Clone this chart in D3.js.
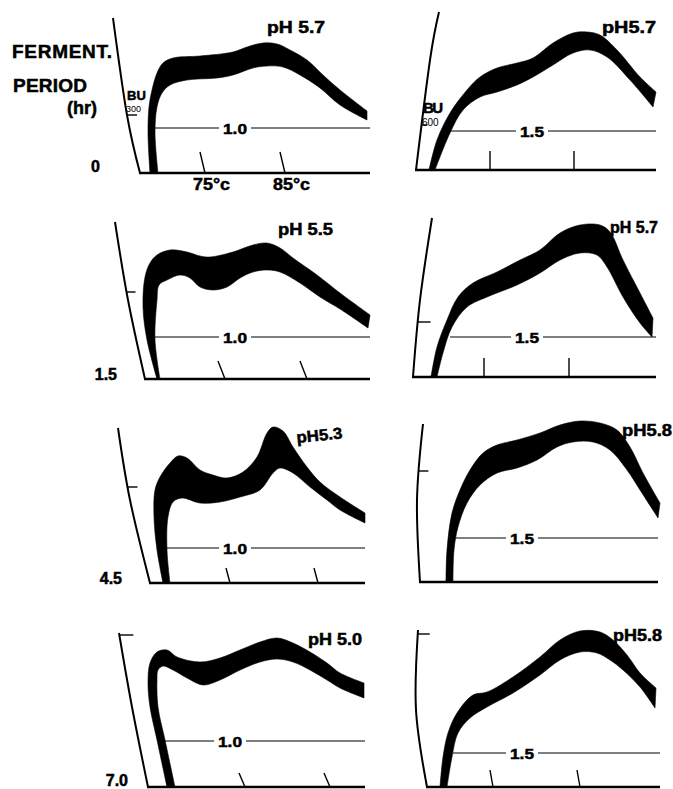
<!DOCTYPE html>
<html>
<head>
<meta charset="utf-8">
<title>Amylograms by fermentation period</title>
<script src="https://d3js.org/d3.v7.min.js"></script>
<style>
  body { margin: 0; background: #fff; }
  svg { display: block; }
  text { font-family: "Liberation Sans", Arial, Helvetica, sans-serif; font-weight: bold; fill: #000; stroke: #000; stroke-width: 0.5px; }
  text.thin { stroke: none; font-weight: normal; }
  .band { fill: #000; stroke: #000; stroke-width: 0.6px; stroke-linejoin: round; }
  .axis { fill: none; stroke: #000; stroke-width: 2px; }
  .base { stroke: #000; stroke-width: 2.5px; }
  .tick { stroke: #000; stroke-width: 1.4px; }
  .ref { stroke: #000; stroke-width: 1px; }
</style>
</head>
<body>
<div id="chart"></div>
<script>
const width = 673, height = 789;

// fermentation period (hr), one per row
const periods = ["0", "1.5", "4.5", "7.0"];
// pH per panel (row by row, left then right)
const phLabels = ["pH 5.7", "pH5.7", "pH 5.5", "pH 5.7", "pH5.3", "pH5.8", "pH 5.0", "pH5.8"];
const refLabels = ["1.0", "1.5", "1.0", "1.5", "1.0", "1.5", "1.0", "1.5"];
const refLevel = [45, 39, 42, 40, 35, 44, 46, 34];
const tempLabels = ["75", "85"];
const tempTicks = [[65, 145], [74, 158], [80, 162], [71, 156], [80, 168], [], [97, 182], [66, 153]];

// band outlines, [time, viscosity] in panel units
const p1Upper = [[10,0],[8,40],[9,66],[12,83],[17,100],[23,110],[33,115],[60,117],[93,121],[107,126],[123,130],[137,129],[150,123],[167,113],[183,98],[200,83],[227,62]];
const p1Lower = [[18,0],[15,40],[17,66],[22,80],[30,88],[47,93],[77,95],[93,98],[113,105],[127,107],[143,106],[160,98],[180,85],[200,68],[227,53]];
const p2Upper = [[13,0],[21,30],[34,57],[51,80],[64,93],[81,102],[101,107],[117,112],[137,127],[157,137],[171,138],[184,135],[201,120],[224,93],[240,78]];
const p2Lower = [[19,0],[34,37],[47,60],[64,73],[81,78],[101,85],[117,93],[137,105],[157,117],[174,120],[191,113],[214,90],[237,63]];
const p3Upper = [[12,0],[2,39],[-2,72],[0,102],[5,116],[12,124],[25,129],[42,127],[55,123],[65,122],[88,127],[108,134],[122,136],[135,131],[148,121],[172,104],[195,86],[225,64]];
const p3Lower = [[15,0],[10,39],[12,79],[14,94],[22,99],[35,104],[45,101],[55,92],[68,89],[82,92],[95,101],[108,107],[122,109],[135,107],[155,96],[175,82],[195,70],[223,51]];
const p4Upper = [[18,0],[24,30],[34,57],[45,80],[60,94],[84,105],[107,117],[127,127],[147,144],[167,152],[187,152],[197,145],[210,117],[227,84],[240,59]];
const p4Lower = [[24,0],[30,24],[39,50],[54,70],[74,80],[104,92],[127,104],[147,117],[167,124],[184,122],[194,110],[210,80],[227,54],[239,40]];
const p5Upper = [[13,0],[7,33],[4,66],[5,93],[10,106],[20,120],[28,127],[37,125],[50,113],[63,108],[77,105],[93,111],[107,126],[117,150],[123,156],[133,152],[143,136],[157,116],[170,101],[190,86],[215,70]];
const p5Lower = [[20,0],[17,33],[18,66],[23,81],[32,85],[50,80],[70,81],[90,86],[110,93],[123,110],[130,115],[143,110],[160,96],[177,83],[190,73],[215,60]];
const p6Upper = [[26,0],[27,32],[32,69],[40,92],[50,112],[63,129],[77,137],[97,142],[120,149],[140,157],[160,161],[180,159],[197,152],[210,135],[223,109],[240,79]];
const p6Lower = [[33,0],[34,32],[38,55],[47,79],[60,97],[77,109],[97,114],[117,122],[137,135],[153,140],[173,140],[190,132],[207,112],[220,92],[238,64]];
const p7Upper = [[19,0],[9,47],[2,80],[0,104],[2,124],[9,135],[19,137],[29,130],[52,125],[72,129],[92,137],[112,145],[129,149],[145,144],[162,135],[179,124],[192,114],[216,104]];
const p7Lower = [[27,0],[17,47],[10,80],[9,107],[10,117],[15,121],[25,117],[39,109],[55,102],[72,107],[92,117],[112,125],[129,128],[145,125],[162,117],[179,107],[192,99],[216,89]];
const p8Upper = [[13,0],[16,30],[21,54],[30,74],[46,92],[60,95],[86,110],[113,130],[133,147],[153,156],[173,155],[186,147],[200,132],[213,114],[229,99]];
const p8Lower = [[20,0],[25,30],[31,54],[43,69],[60,80],[86,94],[113,112],[133,127],[153,135],[170,134],[183,127],[196,117],[213,100],[228,79]];

const uppers = [p1Upper, p2Upper, p3Upper, p4Upper, p5Upper, p6Upper, p7Upper, p8Upper];
const lowers = [p1Lower, p2Lower, p3Lower, p4Lower, p5Lower, p6Lower, p7Lower, p8Lower];

// panel frames
const layout = [
  {ox:140, oy:173, len:230, axis:[[-27,155],[-13,58],[0,0]], axTick:[58,10], tickH:21, lean:5, refT:[15,95], ph:[127,140,0,58]},
  {ox:416, oy:170, len:240, axis:[[23,158],[14,110],[0,0]], axTick:[45,6], tickH:19, lean:0, refT:[32,116], ph:[186,137,0,54]},
  {ox:145, oy:379, len:225, axis:[[-30,157],[-17,79],[0,0]], axTick:[87,9], tickH:18, lean:7, refT:[10,90], ph:[133,144,0,55]},
  {ox:413, oy:377, len:243, axis:[[19,159],[7,77],[0,0]], axTick:[55,13], tickH:19, lean:0, refT:[37,114], ph:[197,144,0,48]},
  {ox:150, oy:583, len:215, axis:[[-32,155],[-20,83],[0,0]], axTick:[96,10], tickH:15, lean:4, refT:[17,85], ph:[147,140,-6,46]},
  {ox:420, oy:582, len:238, axis:[[3,158],[-3,82],[0,0]], axTick:[111,10], tickH:0, lean:0, refT:[35,102], ph:[202,146,0,50]},
  {ox:148, oy:787, len:217, axis:[[-29,154],[-16,80],[0,0]], axTick:[152,14], tickH:14, lean:6, refT:[14,82], ph:[160,142,0,54]},
  {ox:427, oy:787, len:233, axis:[[-9,157],[-11,77],[0,0]], axTick:[153,12], tickH:17, lean:3, refT:[26,95], ph:[186,146,0,49]}
];
const rowLabelPos = [[100,172],[117,380],[122,584],[128,786]];

const svg = d3.select('#chart').append('svg')
    .attr('width', width)
    .attr('height', height);

function axisXAt(node, py) {
  const L = node.getTotalLength();
  let best = null;
  for (let s = 0; s <= L; s += 0.5) {
    const p = node.getPointAtLength(s);
    if (!best || Math.abs(p.y - py) < Math.abs(best.y - py)) best = p;
  }
  return best.x;
}

layout.forEach((f, i) => {
  const x = d3.scaleLinear().domain([0, 100]).range([f.ox, f.ox + 100]);
  const y = d3.scaleLinear().domain([0, 100]).range([f.oy, f.oy - 100]);
  const g = svg.append('g').attr('class', 'panel');

  const line = d3.line().x(d => x(d[0])).y(d => y(d[1]));

  // curved left axis
  const ax = g.append('path').attr('class', 'axis')
      .attr('d', line.curve(d3.curveNatural)(f.axis));
  const axX = axisXAt(ax.node(), y(f.axTick[0]));
  g.append('line').attr('class', 'tick')
      .attr('x1', axX).attr('x2', axX + f.axTick[1])
      .attr('y1', y(f.axTick[0])).attr('y2', y(f.axTick[0]));

  // baseline
  g.append('line').attr('class', 'base')
      .attr('x1', x(0) - 1).attr('x2', x(f.len))
      .attr('y1', y(0)).attr('y2', y(0));

  // temperature ticks
  g.selectAll('line.ttick').data(tempTicks[i]).join('line')
      .attr('class', 'tick ttick')
      .attr('x1', d => x(d)).attr('y1', y(0))
      .attr('x2', d => x(d) - f.lean).attr('y2', y(f.tickH));

  // reference level line with its label on a white gap
  g.append('line').attr('class', 'ref')
      .attr('x1', x(f.refT[0])).attr('x2', x(f.len))
      .attr('y1', y(refLevel[i])).attr('y2', y(refLevel[i]));
  g.append('rect')
      .attr('x', x(f.refT[1]) - 16).attr('y', y(refLevel[i]) - 7)
      .attr('width', 32).attr('height', 14)
      .attr('fill', '#fff');
  g.append('text')
      .attr('x', x(f.refT[1])).attr('y', y(refLevel[i]) + 5.5)
      .attr('text-anchor', 'middle')
      .attr('textLength', 24).attr('lengthAdjust', 'spacingAndGlyphs')
      .style('font-size', '15px')
      .text(refLabels[i]);

  // viscosity band
  const bandLine = d3.line().x(d => x(d[0])).y(d => y(d[1])).curve(d3.curveCatmullRom.alpha(0.5));
  const up = bandLine(uppers[i]);
  const lo = bandLine(lowers[i].slice().reverse());
  g.append('path').attr('class', 'band')
      .attr('d', up + 'L' + lo.slice(1) + 'Z');

  // pH label
  g.append('text')
      .attr('transform', `translate(${x(f.ph[0])},${y(f.ph[1])}) rotate(${f.ph[2]})`)
      .attr('textLength', f.ph[3]).attr('lengthAdjust', 'spacingAndGlyphs')
      .style('font-size', '16px')
      .text(phLabels[i]);

  // temperature labels under the first panel
  if (i === 0) {
    g.selectAll('text.temp').data(tempLabels).join('text')
        .attr('class', 'temp')
        .attr('x', (d, k) => x(tempTicks[0][k]) - 12)
        .attr('y', y(0) + 17)
        .attr('textLength', 37).attr('lengthAdjust', 'spacingAndGlyphs')
        .style('font-size', '17px')
        .text(d => d + '°c');
  }
});

// fermentation period labels
svg.selectAll('text.period').data(periods).join('text')
    .attr('class', 'period')
    .attr('x', (d, i) => rowLabelPos[i][0])
    .attr('y', (d, i) => rowLabelPos[i][1])
    .attr('text-anchor', 'end')
    .style('font-size', '16px')
    .text(d => d);

svg.append('text').attr('x', 12).attr('y', 58).attr('textLength', 100).style('font-size', '19px').text('FERMENT.');
svg.append('text').attr('x', 13).attr('y', 92).attr('textLength', 74).style('font-size', '19px').text('PERIOD');
svg.append('text').attr('x', 67).attr('y', 114).style('font-size', '18px').text('(hr)');

// BU markers
svg.append('text').attr('x', 127).attr('y', 100).style('font-size', '13px').text('BU');
svg.append('text').attr('class', 'thin').attr('x', 126).attr('y', 112).style('font-size', '9px').text('300');
svg.append('text').attr('x', 423).attr('y', 113).attr('textLength', 20).style('font-size', '15px').text('BU');
svg.append('text').attr('class', 'thin').attr('x', 422).attr('y', 126).style('font-size', '10px').text('600');
</script>
</body>
</html>
